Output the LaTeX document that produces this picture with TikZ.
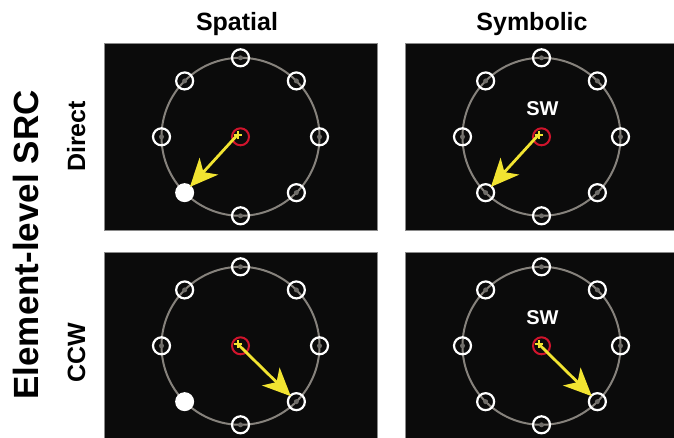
\documentclass[tikz,border=0pt]{standalone}
\usepackage{fontspec}
\setmainfont{Liberation Sans}
\usetikzlibrary{arrows.meta, positioning}
\definecolor{PanelBlack}{HTML}{0B0B0B}
\definecolor{PanelEdge}{HTML}{8A8A8A}
\definecolor{RingGrey}{HTML}{86827C}
\definecolor{DotGrey}{HTML}{6E6C68}
\definecolor{CueRed}{HTML}{D0142C}
\definecolor{ArrowYellow}{HTML}{F2E431}
\tikzset{
    panel/.style={
        draw=PanelEdge,
        line width=0.8pt,
        fill=PanelBlack,
        minimum width=273pt,
        minimum height=187pt,
        inner sep=0pt
    },
    ring/.style={
        draw=RingGrey,
        line width=2pt
    },
    target/.style={
        circle,
        draw=white,
        line width=2.2pt,
        minimum size=17pt,
        inner sep=0pt
    },
    dot/.style={
        circle,
        fill=DotGrey,
        minimum size=5pt,
        inner sep=0pt
    },
    stimulus/.style={
        circle,
        fill=white,
        minimum size=19pt,
        inner sep=0pt
    },
    fixation/.style={
        circle,
        draw=CueRed,
        line width=2pt,
        minimum size=17pt,
        inner sep=0pt
    },
    plus/.style={
        ArrowYellow,
        line width=2pt
    },
    response/.style={
        -{Stealth[length=28pt, width=25pt, inset=8pt]},
        line width=2.8pt,
        ArrowYellow,
        shorten >=7.8pt
    },
    coltitle/.style={
        font=\fontsize{25}{30}\selectfont\bfseries,
        anchor=base
    },
    rowtitle/.style={
        font=\fontsize{25}{30}\selectfont\bfseries,
        anchor=base,
        rotate=90
    },
    cue/.style={
        font=\fontsize{20}{24}\selectfont\bfseries,
        text=white
    }
}

\begin{document}
\begin{tikzpicture}[x=1pt, y=-1pt]
    \clip (0,0) rectangle (674,437);

    % Column and row titles
    \node[coltitle] (spatial) at (237,30.5) {Spatial};
    \node[coltitle] (symbolic) at (532,30.5) {Symbolic};
    \node[rowtitle] (direct) at (85,136.5) {Direct};
    \node[rowtitle] (ccw) at (85,353) {CCW};
    \node[rowtitle, font=\fontsize{35}{40}\selectfont\bfseries] (src) at (38,245) {Element-level SRC};

    % Spatial, direct
    \begin{scope}[shift={(240.5,136.8)}]
        \node[panel] (sd-panel) at (0,0) {};
        \draw[ring] (0,0) circle (79pt);
        \foreach \a in {0,45,90,180,225,270,315} {
            \node[dot] at (\a:79) {};
            \node[target] (sd-\a) at (\a:79) {};
        }
        \node[stimulus] (sd-135) at (135:79) {};
        \node[fixation] (sd-fix) at (0,0) {};
        \coordinate (sd-plus) at (-3,-2);
        \draw[plus] (-7,-2) -- (1,-2) (-3,-6) -- (-3,2);
        \draw[response] (sd-plus) -- (sd-135.center);
    \end{scope}

    % Symbolic, direct
    \begin{scope}[shift={(541.5,136.8)}]
        \node[panel] (yd-panel) at (0,0) {};
        \draw[ring] (0,0) circle (79pt);
        \foreach \a in {0,45,...,315} {
            \node[dot] at (\a:79) {};
            \node[target] (yd-\a) at (\a:79) {};
        }
        \node[cue] (yd-cue) at (1,-28) {SW};
        \node[fixation] (yd-fix) at (0,0) {};
        \coordinate (yd-plus) at (-3,-2);
        \draw[plus] (-7,-2) -- (1,-2) (-3,-6) -- (-3,2);
        \draw[response] (yd-plus) -- (yd-135.center);
    \end{scope}

    % Spatial, CCW
    \begin{scope}[shift={(240.5,345.8)}]
        \node[panel] (sc-panel) at (0,0) {};
        \draw[ring] (0,0) circle (79pt);
        \foreach \a in {0,45,90,180,225,270,315} {
            \node[dot] at (\a:79) {};
            \node[target] (sc-\a) at (\a:79) {};
        }
        \node[stimulus] (sc-135) at (135:79) {};
        \node[fixation] (sc-fix) at (0,0) {};
        \coordinate (sc-plus) at (-3,-2);
        \draw[plus] (-7,-2) -- (1,-2) (-3,-6) -- (-3,2);
        \draw[response] (sc-plus) -- (sc-45.center);
    \end{scope}

    % Symbolic, CCW
    \begin{scope}[shift={(541.5,345.8)}]
        \node[panel] (yc-panel) at (0,0) {};
        \draw[ring] (0,0) circle (79pt);
        \foreach \a in {0,45,...,315} {
            \node[dot] at (\a:79) {};
            \node[target] (yc-\a) at (\a:79) {};
        }
        \node[cue] (yc-cue) at (1,-28) {SW};
        \node[fixation] (yc-fix) at (0,0) {};
        \coordinate (yc-plus) at (-3,-2);
        \draw[plus] (-7,-2) -- (1,-2) (-3,-6) -- (-3,2);
        \draw[response] (yc-plus) -- (yc-45.center);
    \end{scope}
\end{tikzpicture}
\end{document}
